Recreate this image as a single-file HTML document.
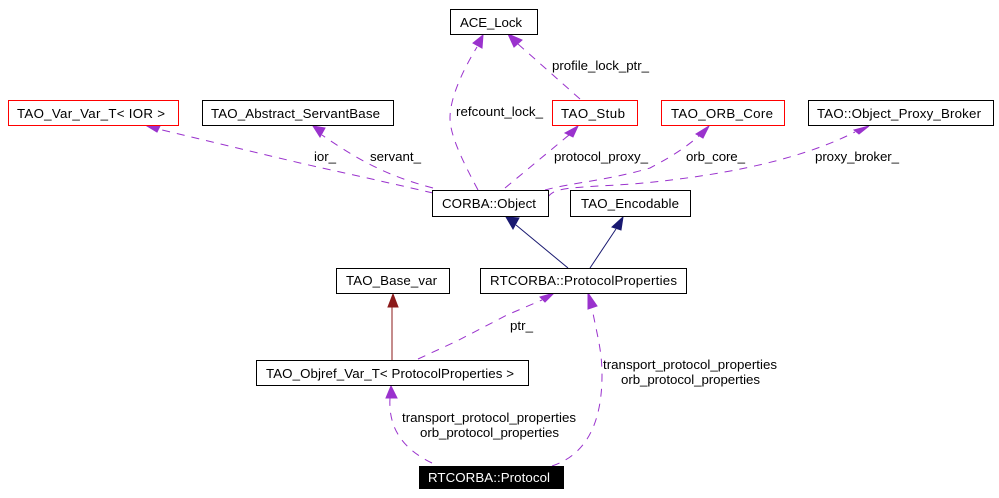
<!DOCTYPE html>
<html><head><meta charset="utf-8"><style>
html,body{margin:0;padding:0;background:#fff;width:999px;height:498px;overflow:hidden}
svg{display:block}
text{font-family:"Liberation Sans",sans-serif;font-size:13.3px;fill:#000}
.b{fill:#fff;stroke:#000;stroke-width:1}
.r{fill:#fff;stroke:#f00;stroke-width:1}
.d{fill:none;stroke:#9a32cd;stroke-width:1;stroke-dasharray:8 7}
.a{fill:#9a32cd;stroke:#9a32cd;stroke-width:1}
</style></head><body>
<svg width="999" height="498" viewBox="0 0 999 498" xmlns="http://www.w3.org/2000/svg">
<rect width="999" height="498" fill="#fff"/>
<!-- edges -->
<path class="d" d="M433,193 C390,183 340,172 300,163 L158,129"/>
<polygon class="a" points="147,126 160,126 157,132"/>
<path class="d" d="M433,188 C395,178 365,165 322,135"/>
<polygon class="a" points="313,126 325,128 320,137"/>
<path class="d" d="M478,190 C462,160 450,135 450,118 C450,100 460,75 477,47"/>
<polygon class="a" points="483,35 473,43 482,48"/>
<path class="d" d="M580,99 L518,44"/>
<polygon class="a" points="508,34 522,40 514,47"/>
<path class="d" d="M505,188 L569,135"/>
<polygon class="a" points="578,126 565,133 573,137"/>
<path class="d" d="M545,190 C570,183 610,180 650,168 C665,160 680,152 699,136"/>
<polygon class="a" points="709,126 696,134 703,138"/>
<path class="d" d="M548,197 C555,187 570,188 633,184 C700,178 790,165 855,132"/>
<polygon class="a" points="869,126 854,130 859,134"/>
<path d="M568,268 L516,225" fill="none" stroke="#191970"/>
<polygon points="506,217 519,218 513,229" fill="#191970" stroke="#191970"/>
<path d="M590,268 L616,229" fill="none" stroke="#191970"/>
<polygon points="623,217 612,227 621,230" fill="#191970" stroke="#191970"/>
<path d="M392,361 L392,305" fill="none" stroke="#8b1a1a"/>
<polygon points="393,294 388,307 398,307" fill="#8b1a1a" stroke="#8b1a1a"/>
<path class="d" d="M418,359 L457,341 L507,315 L542,300"/>
<polygon class="a" points="554,293 540,297 545,302"/>
<path class="d" d="M552,466 C585,455 602,425 602,375 C602,350 597,335 592,308"/>
<polygon class="a" points="588,293 588,309 597,306"/>
<path class="d" d="M432,463 C405,450 388,430 390,398"/>
<polygon class="a" points="391,386 386,398 397,398"/>
<!-- nodes -->
<rect class="b" x="450.500" y="9.500" width="87" height="25"/>
<rect class="r" x="8.500" y="100.500" width="170" height="25"/>
<rect class="b" x="202.500" y="100.500" width="191" height="25"/>
<rect class="r" x="552.500" y="100.500" width="85" height="25"/>
<rect class="r" x="661.500" y="100.500" width="123" height="25"/>
<rect class="b" x="808.500" y="100.500" width="185" height="25"/>
<rect class="b" x="432.500" y="190.500" width="116" height="26"/>
<rect class="b" x="570.500" y="190.500" width="120" height="26"/>
<rect class="b" x="336.500" y="268.500" width="113" height="25"/>
<rect class="b" x="480.500" y="268.500" width="206" height="25"/>
<rect class="b" x="256.500" y="360.500" width="272" height="25"/>
<rect x="419" y="466" width="145" height="23" fill="#000"/>
<!-- node labels -->
<text x="460" y="27" textLength="62" lengthAdjust="spacing">ACE_Lock</text>
<text x="17" y="118" textLength="148" lengthAdjust="spacing">TAO_Var_Var_T&lt; IOR &gt;</text>
<text x="211" y="118" textLength="169" lengthAdjust="spacing">TAO_Abstract_ServantBase</text>
<text x="561" y="118" textLength="64" lengthAdjust="spacing">TAO_Stub</text>
<text x="671" y="118" textLength="102" lengthAdjust="spacing">TAO_ORB_Core</text>
<text x="817" y="118" textLength="164" lengthAdjust="spacing">TAO::Object_Proxy_Broker</text>
<text x="442" y="208" textLength="94" lengthAdjust="spacing">CORBA::Object</text>
<text x="581" y="208" textLength="98" lengthAdjust="spacing">TAO_Encodable</text>
<text x="346" y="285" textLength="91" lengthAdjust="spacing">TAO_Base_var</text>
<text x="490" y="285" textLength="187" lengthAdjust="spacing">RTCORBA::ProtocolProperties</text>
<text x="266" y="378" textLength="248" lengthAdjust="spacing">TAO_Objref_Var_T&lt; ProtocolProperties &gt;</text>
<text x="428" y="482" textLength="122" lengthAdjust="spacing" style="fill:#fff">RTCORBA::Protocol</text>
<!-- edge labels -->
<text x="314" y="161" textLength="22" lengthAdjust="spacing">ior_</text>
<text x="370" y="161" textLength="51" lengthAdjust="spacing">servant_</text>
<text x="456" y="116" textLength="87" lengthAdjust="spacing">refcount_lock_</text>
<text x="552" y="70" textLength="97" lengthAdjust="spacing">profile_lock_ptr_</text>
<text x="554" y="161" textLength="94" lengthAdjust="spacing">protocol_proxy_</text>
<text x="686" y="161" textLength="59" lengthAdjust="spacing">orb_core_</text>
<text x="815" y="161" textLength="84" lengthAdjust="spacing">proxy_broker_</text>
<text x="510" y="330" textLength="23" lengthAdjust="spacing">ptr_</text>
<text x="603" y="369" textLength="174" lengthAdjust="spacing">transport_protocol_properties</text>
<text x="621" y="384" textLength="139" lengthAdjust="spacing">orb_protocol_properties</text>
<text x="402" y="422" textLength="174" lengthAdjust="spacing">transport_protocol_properties</text>
<text x="420" y="437" textLength="139" lengthAdjust="spacing">orb_protocol_properties</text>
</svg>
</body></html>
